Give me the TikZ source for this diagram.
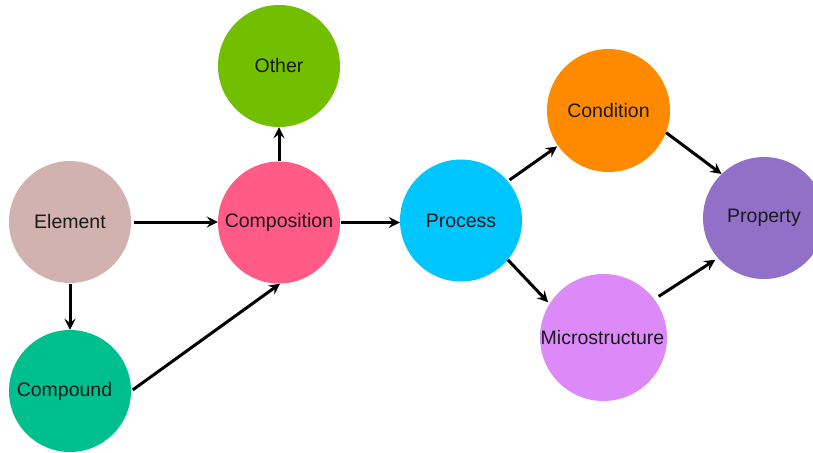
\documentclass[tikz,border=0pt]{standalone}
\usepackage{fontspec}
\setmainfont{Liberation Sans}
\usetikzlibrary{arrows.meta}
\definecolor{cOther}{RGB}{114,191,0}
\definecolor{cElement}{RGB}{209,178,174}
\definecolor{cComposition}{RGB}{255,91,134}
\definecolor{cCompound}{RGB}{0,191,143}
\definecolor{cProcess}{RGB}{0,198,255}
\definecolor{cCondition}{RGB}{255,138,0}
\definecolor{cMicro}{RGB}{220,138,248}
\definecolor{cProperty}{RGB}{147,112,200}
\tikzset{
  ball/.style={circle, inner sep=0pt, minimum size=122pt, text=black!90,
    font=\fontsize{19.5}{22}\selectfont},
  link/.style={line width=3pt, draw=black,
    -{Stealth[length=11pt,width=11pt,inset=4pt]}}
}
\begin{document}
\begin{tikzpicture}[x=1pt,y=-1pt]
  \useasboundingbox (0,0) rectangle (813,452);
  % nodes
  \node[ball, fill=cOther]       (oth)  at (279,66)    {Other};
  \node[ball, fill=cElement]     (elem) at (70,222)    {Element};
  \node[ball, fill=cComposition] (comp) at (279,222.5) {Composition};
  \node[ball, fill=cCompound]    (cpd)  at (70,391)    {\hspace*{-11pt}Compound};
  \node[ball, fill=cProcess]     (proc) at (461,220.5) {Process};
  \node[ball, fill=cCondition, minimum size=123pt]   (cond) at (608.5,110.5) {Condition};
  \node[ball, fill=cMicro, minimum size=127pt]       (micro) at (603.5,337.5) {\hspace*{-2pt}Microstructure};
  \node[ball, fill=cProperty]    (prop) at (764,218)   {Property};
  % connectors
  \draw[link, shorten <=3pt] (elem.east) -- (elem.east -| comp.west);
  \draw[link, shorten <=1pt] (elem.south) -- (cpd.north);
  \draw[link, shorten <=2pt] (cpd.east) -- (comp.-89);
  \draw[link] (comp.north) -- (oth.south);
  \draw[link, shorten <=1pt] (comp.east) -- (proc.west |- comp.east);
  \draw[link, shorten <=2pt, shorten >=1pt] (proc.40) -- (cond.215);
  \draw[link] (cond.-21) -- (prop.134);
  \draw[link, shorten >=2pt] (proc.-40) -- (micro.148);
  \draw[link, shorten <=5pt, shorten >=3pt] (micro.37) -- (prop.-139);
\end{tikzpicture}
\end{document}
